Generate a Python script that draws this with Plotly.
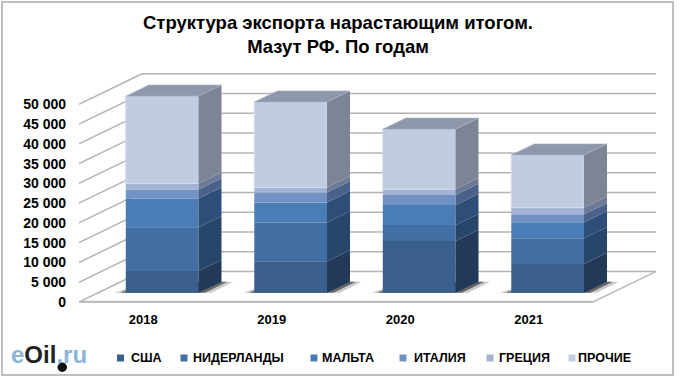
import plotly.graph_objects as go

# ---- data ----
years = ["2018", "2019", "2020", "2021"]
countries = ["США", "НИДЕРЛАНДЫ", "МАЛЬТА", "ИТАЛИЯ", "ГРЕЦИЯ", "ПРОЧИЕ"]
usa = [5500, 8000, 13100, 7300]
netherlands = [11100, 9800, 4050, 6500]
malta = [7250, 5050, 5050, 4050]
italy = [2300, 2550, 2550, 2000]
greece = [1500, 1250, 1450, 1700]
other = [22100, 21600, 15200, 13300]
series = [usa, netherlands, malta, italy, greece, other]
value_ticks = [0, 5000, 10000, 15000, 20000, 25000, 30000, 35000, 40000, 45000, 50000]
tick_text = ["0", "5 000", "10 000", "15 000", "20 000", "25 000", "30 000", "35 000", "40 000", "45 000", "50 000"]

# ---- styling ----
front = ["#3a5f8c", "#426fa3", "#4a7cb5", "#7193c3", "#a2b3d6", "#c0cce2"]
side = ["#23395a", "#28466a", "#2d4e76", "#4a6289", "#6c7a97", "#7d8594"]
top_col = "#8f98aa"
grid = "#b4b4b4"
legend_text_px = [129, 191, 320, 412, 497, 576]
legend_mark_px = [120.5, 184, 314, 403, 490, 572]
W, H = 680, 384
L, R, T, B = 79, 656, 72, 303
PX_PER_CAT = 128.5
PX_PER_VAL = 19.77 / 5000
DX = 63 / PX_PER_CAT      # depth offset, category units
DY = 30.5 / PX_PER_VAL    # depth offset, value units
BAR_D0, BAR_D1 = 0.30, 0.665
BAR_W = 0.566

xr = [-0.5, -0.5 + (R - L) / PX_PER_CAT]
yr = [-(B - 302) / PX_PER_VAL, (302 - T) / PX_PER_VAL]
X_MAX = -0.5 + 4


def proj(x, v, d):
    return x + d * DX, v + d * DY


def px(xp):
    return (xp - L) / (R - L)


def py(yp):
    return (B - yp) / (B - T)


shapes = []


def line(p, q, color=grid, width=1.5):
    shapes.append(dict(type="line", xref="x", yref="y", layer="below",
                       x0=p[0], y0=p[1], x1=q[0], y1=q[1], line=dict(color=color, width=width)))


# walls
for v in value_ticks:
    line(proj(-0.5, v, 0), proj(-0.5, v, 1))
    line(proj(-0.5, v, 1), proj(X_MAX, v, 1))
# floor
line(proj(-0.5, 0, 0), proj(X_MAX, 0, 0), "#bdbdbd", 2.5)
line(proj(X_MAX, 0, 0), proj(X_MAX, 0, 1), "#bdbdbd", 1.5)


def floor_poly(pts, fill):
    path = "M " + " L ".join(f"{a},{b}" for a, b in pts) + " Z"
    shapes.append(dict(type="path", path=path, xref="x", yref="y", layer="below",
                       fillcolor=fill, line=dict(width=0)))


# soft floor shadows under the bars
for i in range(4):
    x0, x1 = i - BAR_W / 2, i + BAR_W / 2
    floor_poly([proj(x0 - 0.09, 0, BAR_D0), proj(x1 + 0.10, 0, BAR_D0),
                proj(x1 + 0.09, 0, BAR_D1), proj(x0, 0, BAR_D1)], "rgba(120,120,120,0.4)")
    floor_poly([proj(x0 - 0.045, 0, BAR_D0), proj(x1 + 0.05, 0, BAR_D0),
                proj(x1 + 0.045, 0, BAR_D1), proj(x0, 0, BAR_D1)], "rgba(60,60,60,0.7)")

fig = go.Figure()
cum = [0, 0, 0, 0]
sx0 = BAR_D0 * DX
sy0 = BAR_D0 * DY
side_traces = []
for s, vals in enumerate(series):
    edge = dict(width=1, color="#d3dcee") if s == len(series) - 1 else dict(width=0)
    fig.add_bar(x=list(range(4)), y=vals, base=[c + sy0 for c in cum], name=countries[s],
                width=BAR_W, offset=-BAR_W / 2 + sx0, marker=dict(color=front[s], line=edge),
                showlegend=False, hoverinfo="name+y")
    xs, ys = [], []
    for i in range(4):
        xr_ = i + BAR_W / 2
        corners = [proj(xr_, cum[i], BAR_D0), proj(xr_, cum[i], BAR_D1),
                   proj(xr_, cum[i] + vals[i], BAR_D1), proj(xr_, cum[i] + vals[i], BAR_D0),
                   proj(xr_, cum[i], BAR_D0)]
        xs += [c[0] for c in corners] + [None]
        ys += [c[1] for c in corners] + [None]
        cum[i] += vals[i]
    side_traces.append(go.Scatter(x=xs, y=ys, mode="lines", fill="toself", fillcolor=side[s],
                                  line=dict(width=0, color=side[s]), showlegend=False, hoverinfo="skip"))
fig.add_traces(side_traces)

# top faces
xs, ys = [], []
for i in range(4):
    x0, x1 = i - BAR_W / 2, i + BAR_W / 2
    corners = [proj(x0, cum[i], BAR_D0), proj(x1, cum[i], BAR_D0), proj(x1, cum[i], BAR_D1),
               proj(x0, cum[i], BAR_D1), proj(x0, cum[i], BAR_D0)]
    xs += [c[0] for c in corners] + [None]
    ys += [c[1] for c in corners] + [None]
fig.add_scatter(x=xs, y=ys, mode="lines", fill="toself", fillcolor=top_col,
                line=dict(width=0.6, color="#aab2c4"), showlegend=False, hoverinfo="skip")

# outer frame
shapes.append(dict(type="rect", xref="paper", yref="paper", x0=px(2), x1=px(673), y0=py(375), y1=py(2),
                   line=dict(color="#bfbfbf", width=2), layer="above"))

annotations = [dict(xref="paper", yref="paper", x=px(9), y=py(354), xanchor="left", yanchor="middle",
                    showarrow=False, font=dict(size=24, weight="bold", color="#8ab4d8"),
                    text='e<span style="color:#222222">Oil</span>.ru')]
# drop under the logo
shapes.append(dict(type="circle", xref="paper", yref="paper", x0=px(57.5), x1=px(67), y0=py(372), y1=py(362.5),
                   fillcolor="#111111", line=dict(width=0), layer="above"))

# legend row
for s, name in enumerate(countries):
    annotations.append(dict(xref="paper", yref="paper", x=px(legend_text_px[s]), y=py(358),
                            xanchor="left", yanchor="middle", showarrow=False, text=name,
                            font=dict(size=12.5, weight="bold", color="black")))
    c = legend_mark_px[s]
    shapes.append(dict(type="rect", xref="paper", yref="paper", x0=px(c - 3.5), x1=px(c + 3.5),
                       y0=py(361.5), y1=py(354.5), fillcolor=front[s], line=dict(width=0), layer="above"))

fig.update_layout(
    width=W, height=H, autosize=False,
    margin=dict(l=L, r=W - R, t=T, b=H - B, autoexpand=False),
    paper_bgcolor="white", plot_bgcolor="rgba(0,0,0,0)",
    font=dict(family="Liberation Sans, Arial, sans-serif", color="black"),
    barmode="overlay", showlegend=False,
    title=dict(text="<b>Структура экспорта нарастающим итогом.<br>Мазут РФ. По годам</b>",
               x=338 / W, xanchor="center", y=1 - 29 / H, yanchor="middle", font=dict(size=18.5, color="black")),
    xaxis=dict(range=xr, tickmode="array", tickvals=[0, 1, 2, 3], ticktext=years, showgrid=False, zeroline=False,
               showline=False, ticks="", ticklabelstandoff=7, tickfont=dict(size=13, color="black", weight="bold")),
    yaxis=dict(range=yr, tickmode="array", tickvals=value_ticks, ticktext=tick_text, showgrid=False, zeroline=False,
               showline=False, ticks="", ticklabelstandoff=12, tickfont=dict(size=14, color="black", weight="bold")),
    shapes=shapes,
    annotations=annotations,
)
fig.write_html("out.html", config=dict(displayModeBar=False),
               post_script="document.body.style.margin='0';document.documentElement.style.overflow='hidden';")
